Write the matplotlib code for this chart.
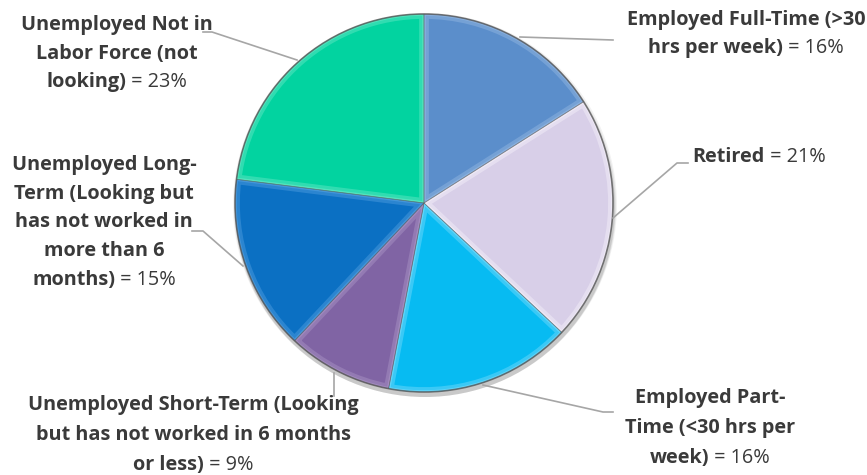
import numpy as np
import matplotlib
matplotlib.use('Agg')
import matplotlib.pyplot as plt
from matplotlib.patches import Wedge, Circle

# data
categories = ['Employed Full-Time', 'Retired', 'Employed Part-Time',
              'Unemployed Short-Term', 'Unemployed Long-Term',
              'Unemployed Not in Labor Force']
values = [16, 21, 16, 9, 15, 23]
label_lines = [
    ['Employed Full-Time (>30', 'hrs per week)'],
    ['Retired'],
    ['Employed Part-', 'Time (<30 hrs per', 'week)'],
    ['Unemployed Short-Term (Looking', 'but has not worked in 6 months', 'or less)'],
    ['Unemployed Long-', 'Term (Looking but', 'has not worked in', 'more than 6', 'months)'],
    ['Unemployed Not in', 'Labor Force (not', 'looking)'],
]
colors = ['#5B8ECB', '#D8CFE8', '#07BBF2', '#8064A4', '#0B70C3', '#02D3A0']
lighter = ['#8FB4E0', '#F2EEF8', '#6ED8FA', '#A690C2', '#4C9BDD', '#5FE6C2']

# layout (pixel coords, y measured from top)
W, H = 867, 475
cx, cy, R = 424, 203, 189
label_pos = [(746, 20, 28), (759, 157, 28), (710, 398, 30),
             (193, 405, 30), (104, 165, 28.7), (117, 25, 28.5)]
leaders = [
    [(520, 37), (613, 40)],
    [(613, 218), (677, 163), (688, 163)],
    [(483, 385), (603, 412), (613, 412)],
    [(334, 373), (334, 396)],
    [(243, 266), (203, 231), (192, 231)],
    [(297, 60), (212, 32), (203, 32)],
]
txt_color = '#3A3A3A'
fontfam = 'Open Sans'
fsize = 14.3

fig = plt.figure(figsize=(W / 100, H / 100), dpi=100)
ax = fig.add_axes([0, 0, 1, 1])
ax.set_xlim(0, W)
ax.set_ylim(0, H)
ax.axis('off')

def Y(y):
    return H - y

# soft shadow
for i, a in enumerate([0.05, 0.07, 0.1]):
    ax.add_patch(Circle((cx + 1, Y(cy) - 2 - i), R + 3 - i, color='#000000',
                        alpha=a, lw=0, zorder=1))

# wedges with bevel-like lighter rim
total = float(sum(values))
theta = 90.0
for v, c, lc in zip(values, colors, lighter):
    span = 360.0 * v / total
    t1, t2 = theta - span, theta
    w = Wedge((cx, Y(cy)), R, t1, t2, facecolor=c, edgecolor='none', zorder=2)
    ax.add_patch(w)
    rim = Wedge((cx, Y(cy)), R, t1, t2, facecolor='none', edgecolor=lc,
                lw=7, alpha=0.5, zorder=3)
    ax.add_patch(rim)
    rim.set_clip_path(w)
    rim2 = Wedge((cx, Y(cy)), R, t1, t2, facecolor='none', edgecolor=lc,
                 lw=2.5, alpha=0.75, zorder=3)
    ax.add_patch(rim2)
    rim2.set_clip_path(w)
    ax.add_patch(Wedge((cx, Y(cy)), R, t1, t2, facecolor='none',
                       edgecolor='#5a5a5a', lw=0.5, alpha=0.5, zorder=4))
    theta = t1

ax.add_patch(Circle((cx, Y(cy)), R, facecolor='none', edgecolor='#555555',
                    lw=1.2, alpha=0.7, zorder=5))

# leader lines
for pts in leaders:
    xs = [p[0] for p in pts]
    ys = [Y(p[1]) for p in pts]
    ax.plot(xs, ys, color='#A6A6A6', lw=1.2, zorder=6)

# labels
fig.canvas.draw()
renderer = fig.canvas.get_renderer()

def width_px(t):
    bb = t.get_window_extent(renderer=renderer)
    return bb.width

for lines, v, (x, y0, dy) in zip(label_lines, values, label_pos):
    for i, ln in enumerate(lines[:-1]):
        ax.text(x, Y(y0 + i * dy), ln, ha='center', va='center',
                fontsize=fsize, fontweight='bold', family=fontfam,
                color=txt_color, zorder=7)
    yl = Y(y0 + (len(lines) - 1) * dy)
    tb = ax.text(0, yl, lines[-1], ha='left', va='center', fontsize=fsize,
                 fontweight='bold', family=fontfam, color=txt_color, zorder=7)
    tn = ax.text(0, yl, ' = %d%%' % v, ha='left', va='center', fontsize=fsize,
                 family=fontfam, color=txt_color, zorder=7)
    wb = width_px(tb)
    wn = width_px(tn)
    left = x - (wb + wn) / 2.0
    tb.set_x(left)
    tn.set_x(left + wb)

fig.savefig('out.png', dpi=100)
